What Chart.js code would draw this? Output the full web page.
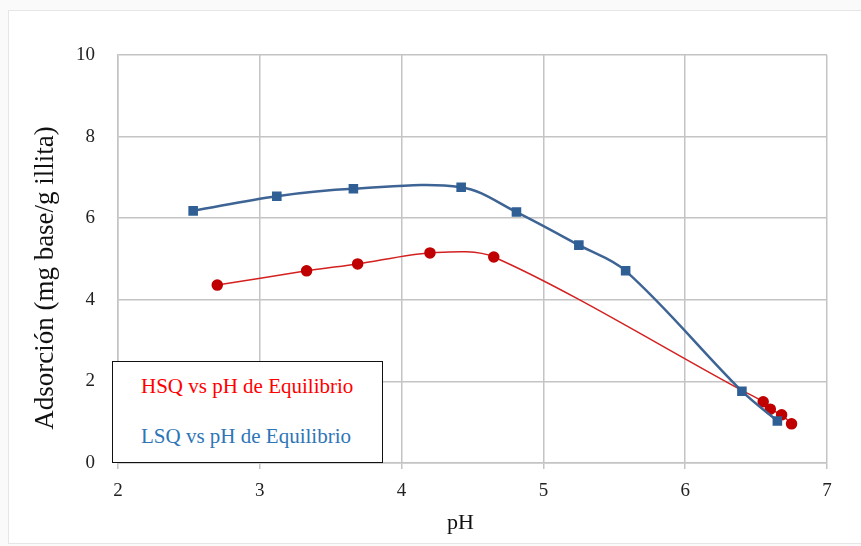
<!DOCTYPE html>
<html>
<head>
<meta charset="utf-8">
<script src="https://cdn.jsdelivr.net/npm/chart.js@4"></script>
<style>
    body { margin: 0; background: #fafafa; }
    #wrap { position: relative; width: 861px; height: 546px; }
    #frame { position: absolute; left: 8px; top: 10px; width: 870px; height: 532px; border: 1px solid #e6e6e6; background: #fff; }
    #mainCanvas { position: absolute; left: 0; top: 0; }
    #legend { position: absolute; left: 112px; top: 361px; width: 269px; height: 100px; border: 1px solid #111; background: #fff;
        font-family: "Liberation Serif", serif; font-size: 21px; line-height: 24px; }
    #legend div { position: absolute; left: 28px; }
</style>
</head>
<body>
<div id="wrap">
    <div id="frame"></div>
    <canvas id="mainCanvas" width="861" height="546"></canvas>
    <div id="legend">
        <div id="lg1" style="top: 12px; color: #ff0000;"></div>
        <div id="lg2" style="top: 62px; color: #2e75b6;"></div>
    </div>
</div>
<script>
// pH values and adsorption
const hsqPH = [2.70, 3.33, 3.69, 4.20, 4.65, 6.40, 6.55, 6.60, 6.68, 6.75];
const hsqAds = [4.36, 4.71, 4.88, 5.15, 5.05, 1.78, 1.50, 1.32, 1.18, 0.96];
const lsqPH = [2.53, 3.12, 3.66, 4.42, 4.81, 5.25, 5.58, 6.40, 6.65];
const lsqAds = [6.18, 6.54, 6.72, 6.76, 6.15, 5.34, 4.71, 1.76, 1.03];
const xTicks = [2, 3, 4, 5, 6, 7];
const yTicks = [0, 2, 4, 6, 8, 10];
const hsqLabel = "HSQ vs pH de Equilibrio";
const lsqLabel = "LSQ vs pH de Equilibrio";
const xTitle = "pH";
const yTitle = "Adsorción (mg base/g illita)";

document.getElementById('lg1').textContent = hsqLabel;
document.getElementById('lg2').textContent = lsqLabel;

function toPoints(xs, ys) {
    return xs.map((x, i) => ({x: x, y: ys[i]}));
}

const serif = "'Liberation Serif', serif";

// axis titles sit a bit off-centre in the original, so draw them by hand
const axisTitles = {
    id: 'axisTitles',
    afterDraw(c) {
        const ctx = c.ctx;
        const area = c.chartArea;
        ctx.save();
        ctx.fillStyle = '#111';
        ctx.textAlign = 'center';
        ctx.textBaseline = 'middle';
        ctx.font = "22px " + serif;
        ctx.fillText(xTitle, (area.left + area.right) / 2 - 12, 523);
        ctx.translate(46, (area.top + area.bottom) / 2 + 19);
        ctx.rotate(-Math.PI / 2);
        ctx.font = "27px " + serif;
        ctx.fillText(yTitle, 0, 0);
        ctx.restore();
    }
};

let chart = new Chart(
    document.getElementById('mainCanvas'),
    {
        type: 'scatter',
        data: {
            datasets: [
                {
                    label: lsqLabel,
                    data: toPoints(lsqPH, lsqAds),
                    showLine: true,
                    tension: 0.35,
                    borderColor: '#3d6494',
                    borderWidth: 2.5,
                    pointStyle: 'rect',
                    pointRadius: 5,
                    pointBackgroundColor: '#2f5f94',
                    pointBorderColor: '#2f5f94',
                    order: 1
                },
                {
                    label: hsqLabel,
                    data: toPoints(hsqPH, hsqAds),
                    showLine: true,
                    tension: 0.3,
                    borderColor: '#d42020',
                    borderWidth: 1.5,
                    pointStyle: 'circle',
                    pointRadius: hsqPH.map((x, i) => i == 5 ? 0 : 5),
                    pointBackgroundColor: '#c00000',
                    pointBorderColor: '#c00000',
                    order: 2
                }
            ]
        },
        options: {
            responsive: false,
            animation: false,
            layout: { padding: { left: 26, right: 34, top: 55, bottom: 6 } },
            plugins: {
                legend: { display: false },
                tooltip: { enabled: false }
            },
            scales: {
                x: {
                    type: 'linear',
                    min: 2, max: 7,
                    afterBuildTicks: axis => { axis.ticks = xTicks.map(v => ({value: v})); },
                    afterFit: axis => { axis.height = 77; },
                    grid: { color: '#c4c4c4', lineWidth: 1.5, tickLength: 6 },
                    border: { color: '#c4c4c4', width: 1.5 },
                    ticks: { color: '#222', font: { family: serif, size: 19 }, padding: 11 }
                },
                y: {
                    min: 0, max: 10,
                    afterBuildTicks: axis => { axis.ticks = yTicks.map(v => ({value: v})); },
                    afterFit: axis => { axis.width = 92; },
                    grid: { color: '#c4c4c4', lineWidth: 1.5, tickLength: 0 },
                    border: { color: '#c4c4c4', width: 1.5 },
                    ticks: { color: '#222', font: { family: serif, size: 19 }, padding: 23 }
                }
            }
        },
        plugins: [axisTitles]
    }
);
</script>
</body>
</html>
